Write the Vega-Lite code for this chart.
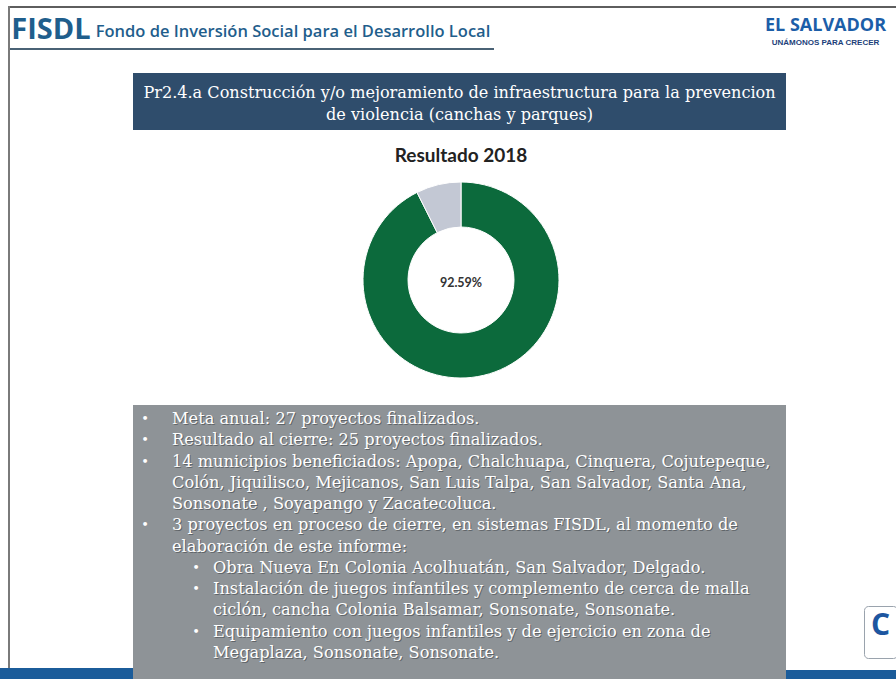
{
  "$schema": "https://vega.github.io/schema/vega-lite/v6.json",
  "padding": 0,
  "background": "white",
  "spacing": 0,
  "config": {"view": {"stroke": null}, "concat": {"spacing": 0}},
  "hconcat": [
    {"spacing": 0, "vconcat": [
      {"width": 10, "height": 6, "data": {"values": []}, "mark": "text", "encoding": {}},
      {"spacing": 0, "hconcat": [
        {"width": 8, "height": 662, "data": {"values": []}, "mark": "text", "encoding": {}},
        {"width": 2, "height": 662, "view": {"fill": "#7a7a7a", "stroke": null}, "data": {"values": []}, "mark": "text", "encoding": {}}
      ]},
      {"width": 10, "height": 11, "view": {"fill": "#1b5c9a", "stroke": null}, "data": {"values": []}, "mark": "text", "encoding": {}}
    ]},
    {"spacing": 0, "vconcat": [
      {"width": 10, "height": 6, "data": {"values": []}, "mark": "text", "encoding": {}},
      {"width": 886, "height": 2, "view": {"fill": "#5e5e5e", "stroke": null}, "data": {"values": []}, "mark": "text", "encoding": {}},
      {"spacing": 0, "hconcat": [
        {"spacing": 0, "vconcat": [
          {"width": 10, "height": 4, "data": {"values": []}, "mark": "text", "encoding": {}},
          {"spacing": 0, "hconcat": [
            {"width": 82, "height": 36, "data": {"values": [{"t": "FISDL"}]},
             "mark": {"type": "text", "font": "Open Sans", "fontWeight": "bold", "fontSize": 29, "color": "#1f5e8c", "align": "center", "baseline": "middle"},
             "encoding": {"text": {"field": "t", "type": "nominal"}}},
            {"width": 402, "height": 36, "data": {"values": [{"t": "Fondo de Inversión Social para el Desarrollo Local"}]},
             "mark": {"type": "text", "font": "Open Sans", "fontWeight": 600, "fontSize": 16.5, "color": "#1f5e8c", "align": "center", "baseline": "middle", "dy": 2},
             "encoding": {"text": {"field": "t", "type": "nominal"}}}
          ]},
          {"width": 484, "height": 2, "view": {"fill": "#4a6275", "stroke": null}, "data": {"values": []}, "mark": "text", "encoding": {}}
        ]},
        {"width": 264, "height": 1, "data": {"values": []}, "mark": "text", "encoding": {}},
        {"width": 135, "height": 65, "layer": [
          {"data": {"values": [{"t": "EL SALVADOR"}]},
           "mark": {"type": "text", "font": "Open Sans", "fontWeight": "bold", "fontSize": 18, "color": "#1c5ea8", "align": "center", "baseline": "alphabetic", "dy": -10},
           "encoding": {"text": {"field": "t", "type": "nominal"}}},
          {"data": {"values": [{"t": "UNÁMONOS PARA CRECER"}]},
           "mark": {"type": "text", "font": "Liberation Sans", "fontWeight": "bold", "fontSize": 8, "color": "#1d3f7a", "align": "center", "baseline": "alphabetic", "dy": 4},
           "encoding": {"text": {"field": "t", "type": "nominal"}}}
        ]}
      ]},
      {"spacing": 0, "hconcat": [
        {"width": 123, "height": 1, "data": {"values": []}, "mark": "text", "encoding": {}},
        {"width": 653, "height": 57, "view": {"fill": "#2f4d6c", "stroke": null},
         "data": {"values": [{"t": ["Pr2.4.a Construcción y/o mejoramiento de infraestructura para la prevencion", "de violencia (canchas y parques)"]}]},
         "mark": {"type": "text", "font": "DejaVu Serif", "fontSize": 16.1, "lineHeight": 22, "color": "white", "align": "center", "baseline": "alphabetic", "dy": -3.5},
         "encoding": {"text": {"field": "t", "type": "nominal"}}}
      ]},
      {"spacing": 0, "hconcat": [
        {"width": 301, "height": 1, "data": {"values": []}, "mark": "text", "encoding": {}},
        {"width": 300, "height": 50, "data": {"values": [{"t": "Resultado 2018"}]},
         "mark": {"type": "text", "font": "Lato", "fontWeight": "bold", "fontSize": 19, "color": "#222222", "align": "center", "baseline": "middle", "dy": 1},
         "encoding": {"text": {"field": "t", "type": "nominal"}}}
      ]},
      {"spacing": 0, "hconcat": [
        {"width": 351, "height": 1, "data": {"values": []}, "mark": "text", "encoding": {}},
        {"width": 200, "height": 200, "layer": [
          {"data": {"values": [{"estado": "Finalizados", "proyectos": 25}, {"estado": "Pendientes", "proyectos": 2}]},
           "mark": {"type": "arc", "outerRadius": 98, "innerRadius": 53, "stroke": "white", "strokeWidth": 1},
           "encoding": {
             "theta": {"field": "proyectos", "type": "quantitative", "stack": true},
             "color": {"field": "estado", "type": "nominal", "scale": {"domain": ["Finalizados", "Pendientes"], "range": ["#0c6a3c", "#c3c8d4"]}, "legend": null},
             "order": {"field": "estado", "sort": "ascending"}
           }},
          {"data": {"values": [{"pct": "92.59%"}]},
           "mark": {"type": "text", "font": "Lato", "fontWeight": "bold", "fontSize": 12.5, "color": "#333333", "align": "center", "baseline": "middle", "dy": 3},
           "encoding": {"text": {"field": "pct", "type": "nominal"}}}
        ]}
      ]},
      {"width": 10, "height": 25, "data": {"values": []}, "mark": "text", "encoding": {}},
      {"spacing": 0, "hconcat": [
        {"spacing": 0, "vconcat": [
          {"width": 123, "height": 263, "data": {"values": []}, "mark": "text", "encoding": {}},
          {"width": 123, "height": 11, "view": {"fill": "#1b5c9a", "stroke": null}, "data": {"values": []}, "mark": "text", "encoding": {}}
        ]},
        {"width": 653, "height": 274, "view": {"fill": "#8e9397", "stroke": null},
         "data": {"values": [
           {"linea": 1, "nivel": 0, "vineta": true, "texto": "Meta anual: 27 proyectos finalizados."},
           {"linea": 2, "nivel": 0, "vineta": true, "texto": "Resultado al cierre: 25 proyectos finalizados."},
           {"linea": 3, "nivel": 0, "vineta": true, "texto": "14 municipios beneficiados: Apopa, Chalchuapa, Cinquera, Cojutepeque,"},
           {"linea": 4, "nivel": 0, "vineta": false, "texto": "Colón, Jiquilisco, Mejicanos, San Luis Talpa, San Salvador, Santa Ana,"},
           {"linea": 5, "nivel": 0, "vineta": false, "texto": "Sonsonate , Soyapango y Zacatecoluca."},
           {"linea": 6, "nivel": 0, "vineta": true, "texto": "3 proyectos en proceso de cierre, en sistemas FISDL, al momento de"},
           {"linea": 7, "nivel": 0, "vineta": false, "texto": "elaboración de este informe:"},
           {"linea": 8, "nivel": 1, "vineta": true, "texto": "Obra Nueva En Colonia Acolhuatán,  San Salvador, Delgado."},
           {"linea": 9, "nivel": 1, "vineta": true, "texto": "Instalación de juegos infantiles y complemento de cerca de malla"},
           {"linea": 10, "nivel": 1, "vineta": false, "texto": "ciclón, cancha Colonia Balsamar, Sonsonate, Sonsonate."},
           {"linea": 11, "nivel": 1, "vineta": true, "texto": "Equipamiento con juegos infantiles y de ejercicio en zona de"},
           {"linea": 12, "nivel": 1, "vineta": false, "texto": "Megaplaza, Sonsonate, Sonsonate."}
         ]},
         "layer": [
           {"transform": [{"filter": "datum.vineta"}],
            "mark": {"type": "text", "font": "DejaVu Serif", "fontSize": 13, "color": "white", "align": "center", "baseline": "alphabetic", "dy": -1},
            "encoding": {
              "x": {"field": "nivel", "type": "quantitative", "scale": {"domain": [0, 1], "range": [12, 63]}, "axis": null},
              "y": {"field": "linea", "type": "quantitative", "scale": {"domain": [1, 12], "range": [19, 253]}, "axis": null},
              "text": {"value": "•"}
            }},
           {"mark": {"type": "text", "font": "DejaVu Serif", "fontSize": 16.2, "color": "#3a3f44", "opacity": 0.55, "align": "left", "baseline": "alphabetic", "dx": 1, "dy": 1},
            "encoding": {
              "x": {"field": "nivel", "type": "quantitative", "scale": {"domain": [0, 1], "range": [39, 80]}, "axis": null},
              "y": {"field": "linea", "type": "quantitative", "scale": {"domain": [1, 12], "range": [19, 253]}, "axis": null},
              "text": {"field": "texto", "type": "nominal"}
            }},
           {"mark": {"type": "text", "font": "DejaVu Serif", "fontSize": 16.2, "color": "white", "align": "left", "baseline": "alphabetic"},
            "encoding": {
              "x": {"field": "nivel", "type": "quantitative", "scale": {"domain": [0, 1], "range": [39, 80]}, "axis": null},
              "y": {"field": "linea", "type": "quantitative", "scale": {"domain": [1, 12], "range": [19, 253]}, "axis": null},
              "text": {"field": "texto", "type": "nominal"}
            }}
         ],
         "resolve": {"scale": {"x": "independent"}}},
        {"spacing": 0, "vconcat": [
          {"width": 110, "height": 200, "data": {"values": []}, "mark": "text", "encoding": {}},
          {"spacing": 0, "hconcat": [
            {"width": 77, "height": 52, "data": {"values": []}, "mark": "text", "encoding": {}},
            {"width": 33, "height": 52, "view": {"fill": "white", "stroke": "#9aa3ad", "cornerRadius": 4}, "data": {"values": [{"t": "C"}]},
             "mark": {"type": "text", "font": "Open Sans", "fontWeight": "bold", "fontSize": 30, "color": "#1d56a0", "align": "center", "baseline": "middle", "dy": -6},
             "encoding": {"text": {"field": "t", "type": "nominal"}}}
          ]},
          {"width": 110, "height": 11, "data": {"values": []}, "mark": "text", "encoding": {}},
          {"width": 110, "height": 11, "view": {"fill": "#1b5c9a", "stroke": null}, "data": {"values": []}, "mark": "text", "encoding": {}}
        ]}
      ]}
    ]}
  ]
}
